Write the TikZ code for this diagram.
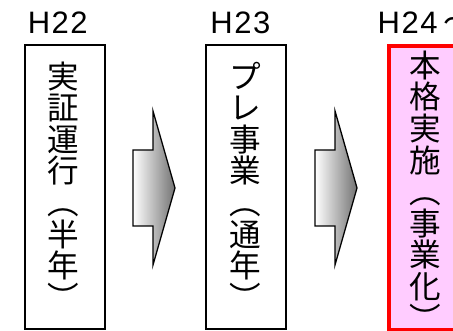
\documentclass[tikz,border=0pt]{standalone}
\usepackage{fontspec}
\setmainfont{Liberation Sans}
\newfontfamily\cjk{Noto Sans CJK JP}
\newfontfamily\labelfont[LetterSpace=5]{Liberation Sans}
\newcommand\vc[1]{\rule[-0.12em]{0pt}{1em}#1}
\definecolor{stagepink}{HTML}{FFCCFF}
\begin{document}
\begin{tikzpicture}[x=1pt,y=-1pt,
  stagebox/.style={draw=black, line width=2pt, inner sep=0pt, minimum width=80pt, minimum height=284pt, anchor=north west},
  mainbox/.style={draw=red, fill=stagepink, line width=4pt, inner sep=0pt, minimum width=82pt, minimum height=284pt, anchor=north west},
  vtext/.style={inner sep=0pt, anchor=north, align=center, font=\cjk\fontsize{31.6}{31.6}\selectfont},
  yearlabel/.style={inner sep=0pt, anchor=base west, font=\labelfont\fontsize{31}{31}\selectfont},
  steparrow/.style={draw=black, line width=1.3pt, left color=white, right color=black!55, line join=miter}
]
\useasboundingbox (0,0) rectangle (453,331);
% boxes
\node[stagebox] (b1) at (24,44) {};
\node[stagebox] (b2) at (205,44) {};
\node[mainbox] (b3) at (387,44) {};
% year labels
\node[yearlabel] (y1) at (27.6,33.3) {H22};
\node[yearlabel] (y2) at (210.2,33.3) {H23};
\node[yearlabel] (y3) at (377.5,33.3) {H24\kern6pt{\cjk ～}};
% vertical texts
\node[vtext] (t1) at (63.5,60) {\vc{実}\\\vc{証}\\\vc{運}\\\vc{行}\\\vc{︵}\\\vc{半}\\\vc{年}\\︶};
\node[vtext] (t2) at (245,60) {\vc{プ}\\\vc{レ}\\\vc{事}\\\vc{業}\\\vc{︵}\\\vc{通}\\\vc{年}\\︶};
\node[vtext] (t3) at (425.5,49.2) {\vc{本}\\\vc{格}\\\vc{実}\\\vc{施}\\\vc{︵}\\\vc{事}\\\vc{業}\\\vc{化}\\︶};
% block arrows
\path[steparrow] (133,150) -- (153,150) -- (153,111) -- (175,188) -- (153,265) -- (153,226) -- (133,226) -- cycle;
\path[steparrow] (315,150) -- (335,150) -- (335,111) -- (357,188) -- (335,265) -- (335,226) -- (315,226) -- cycle;
\end{tikzpicture}
\end{document}
